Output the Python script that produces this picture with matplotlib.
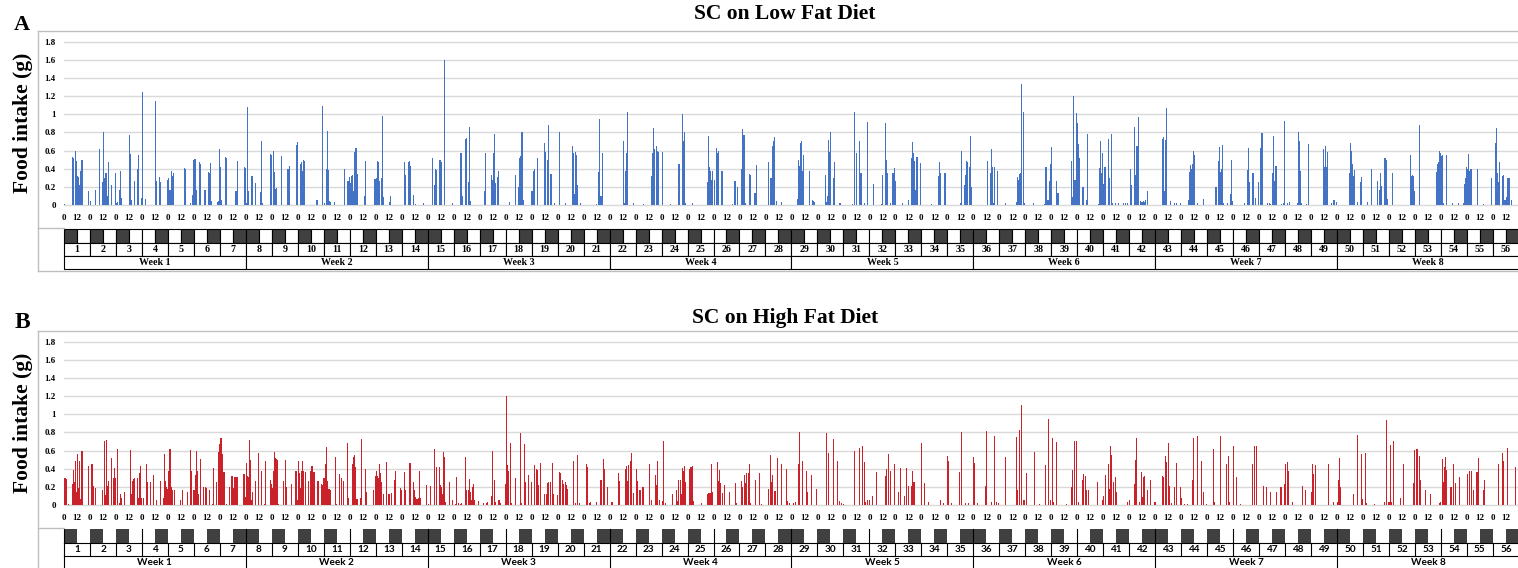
import matplotlib
matplotlib.use("Agg")
import matplotlib.pyplot as plt
import numpy as np
from matplotlib.lines import Line2D
from matplotlib.patches import Rectangle

# Hourly food intake (g); one {hour: grams} dict per day, days 1-56
low_fat = [
    {0: .01, 6: .42, 7: .53, 8: .52, 10: .60, 11: .49, 12: .32, 13: .31, 14: .22, 15: .38, 16: .50, 17: .50, 18: .02, 22: .15},
    {0: .04, 5: .16, 8: .62, 11: .25, 12: .81, 13: .30, 14: .35, 15: .35, 16: .10, 17: .47, 18: .48, 19: .22, 23: .35},
    {0: .02, 1: .03, 3: .17, 4: .37, 5: .08, 6: .07, 12: .77, 13: .56, 14: .06, 17: .27, 18: .61, 19: .40, 20: .55, 23: .08},
    {0: 1.25, 3: .07, 12: 1.15, 13: .27, 16: .31, 17: .25, 18: .73, 23: .28},
    {0: .30, 1: .16, 2: .16, 3: .37, 4: .32, 5: .35, 15: .41, 16: .40, 19: .57, 20: .02, 22: .11, 23: .50},
    {0: .51, 1: .51, 2: .17, 5: .47, 6: .45, 9: .16, 10: .16, 13: .36, 14: .35, 15: .46, 16: .04, 21: .03, 22: .04, 23: .62},
    {0: .42, 1: .05, 5: .53, 6: .52, 14: .15, 15: .15, 16: .49, 22: .42, 23: .41},
    {0: .02, 1: 1.08, 2: .15, 5: .32, 6: .32, 8: .24, 13: .14, 14: .70, 15: .02, 22: .56, 23: .55},
    {1: .59, 2: .36, 3: .18, 4: .19, 8: .54, 14: .40, 15: .40, 16: .43, 22: .66, 23: .69},
    {2: .45, 3: .47, 4: .38, 5: .50, 6: .49, 17: .05, 18: .05, 22: 1.09},
    {0: .02, 2: .40, 3: .82, 4: .39, 5: .04, 6: .03, 9: .03, 19: .40, 20: .32, 21: .26, 22: .27, 23: .31},
    {0: .24, 1: .32, 2: .33, 3: .15, 4: .58, 5: .63, 6: .63, 7: .34, 8: .21, 13: .10, 14: .48, 20: .28, 22: .29, 23: .29},
    {0: .30, 1: .48, 2: .47, 3: .27, 5: .30, 6: .98, 7: .09, 8: .02, 12: .03, 13: .10},
    {2: .47, 3: .33, 6: .47, 7: .48, 8: .43, 9: .11, 10: .11, 12: .01, 20: .02},
    {4: .52, 6: .22, 7: .40, 8: .39, 9: .16, 10: .50, 11: .50, 12: .47, 15: 1.60, 22: .02},
    {6: .57, 7: .57, 8: .10, 9: .12, 10: .73, 11: .74, 13: .25, 14: .86, 15: .04, 21: .07},
    {4: .15, 5: .57, 10: .33, 11: .28, 12: .57, 13: .78, 14: .24, 16: .31, 17: .37, 22: .07},
    {3: .03, 9: .33, 10: .20, 11: .20, 12: .52, 13: .54, 14: .80, 15: .80, 16: .06, 23: .15},
    {0: .15, 1: .38, 2: .40, 5: .52, 10: .28, 11: .68, 12: .58, 14: .50, 15: .88, 17: .34, 18: .34, 21: .02},
    {1: .80, 7: .02, 13: .65, 14: .57, 15: .12, 16: .58, 17: .55, 18: .22, 21: .02},
    {11: .01, 13: .36, 14: .95, 15: .10, 16: .10, 17: .57},
    {11: .72, 12: .70, 13: .02, 14: .38, 15: .57, 16: 1.02, 22: .02},
    {7: .01, 14: .32, 15: .57, 16: .85, 17: .62, 19: .65, 20: .60, 21: .58, 23: .29},
    {0: .58, 8: .01, 15: .45, 16: .45, 19: 1.00, 20: .70, 21: .80, 22: .02, 23: .56},
    {4: .02, 11: .01, 18: .25, 19: .76, 20: .42, 21: .38, 22: .28, 23: .38},
    {0: .28, 2: .63, 3: .57, 4: .60, 7: .37, 8: .37, 17: .01, 19: .26, 20: .26, 22: .20},
    {1: .40, 2: .84, 3: .77, 4: .77, 5: .02, 9: .34, 10: .33, 13: .13, 14: .13, 15: .44},
    {2: .47, 4: .30, 5: .30, 6: .65, 7: .70, 8: .75, 10: .04, 12: .25, 14: .03},
    {5: .07, 6: .50, 7: .43, 8: .68, 9: .70, 10: .37, 11: .55, 12: .55, 16: .38, 19: .05, 20: .04, 21: .03},
    {7: .33, 8: .03, 9: .10, 10: .72, 11: .58, 12: .81, 13: .12, 14: .30, 15: .47, 20: .02, 21: .02},
    {8: .01, 10: 1.02, 12: .57, 13: .72, 14: .70, 15: .35, 16: .35, 19: .02, 22: .92},
    {3: .23, 11: .01, 12: .33, 13: .33, 14: .90, 15: .50, 16: .35, 19: .02, 21: .35, 22: .35, 23: .41},
    {0: .27, 1: .27, 6: .02, 12: .05, 13: .44, 14: .52, 15: .69, 16: .57, 17: .48, 18: .16, 19: .53, 20: .53, 23: .46},
    {9: .01, 14: 1.14, 15: .32, 16: .47, 17: .35, 21: .35, 22: .35},
    {12: .02, 13: .60, 14: .22, 15: .22, 16: .33, 17: .48, 18: .47, 20: .42, 21: .76, 22: .20},
    {13: .48, 14: .63, 15: .35, 16: .62, 17: .42, 18: .02, 19: .42, 22: .37},
    {5: .02, 15: .03, 16: .31, 17: .28, 18: .34, 19: .35, 20: 1.33, 22: 1.03, 23: .02},
    {2: .36, 7: .02, 17: .01, 18: .42, 19: .42, 20: .05, 21: .06, 22: .26, 23: .45},
    {0: .64, 4: .27, 5: .13, 6: .13, 18: .48, 19: .09, 20: 1.20, 21: .28, 22: .28, 23: 1.01},
    {0: .90, 1: .67, 2: .52, 3: .68, 4: .20, 5: .20, 8: .05, 9: .78, 19: .01, 20: .41, 21: .70, 22: .35, 23: .57},
    {0: .23, 1: .42, 2: .42, 3: .60, 4: .73, 5: .30, 7: .78, 8: .02, 11: .02, 14: .02, 18: .02, 20: .02, 22: .02},
    {1: .40, 2: .22, 4: .86, 5: .33, 6: .65, 7: .65, 8: .97, 10: .04, 11: .03, 12: .03, 13: .04, 14: .03, 15: .05, 16: .15},
    {6: .73, 7: .75, 8: .15, 9: .72, 10: 1.07, 14: .04, 17: .02, 19: .02, 23: .02},
    {6: .06, 7: .36, 8: .44, 9: .40, 10: .45, 11: .60, 12: .55, 15: .02, 16: .02, 20: .07},
    {7: .20, 8: .20, 10: .48, 11: .64, 12: .36, 13: .40, 14: .66, 15: .02, 18: .02, 21: .12, 22: .50, 23: .04},
    {10: .02, 13: .39, 14: .63, 15: .25, 16: .13, 17: .35, 18: .35, 20: .08, 23: .25},
    {1: .63, 2: .79, 3: .79, 7: .02, 9: .02, 10: .01, 12: .35, 13: .76, 14: .27, 15: .43, 16: .43, 17: .02, 20: .01, 22: .02, 23: .93},
    {2: .02, 4: .03, 5: .02, 11: .02, 12: .81, 13: .70, 14: .38, 15: .02, 17: .01, 19: .01, 21: .67},
    {11: .62, 12: .42, 13: .65, 14: .42, 15: .58, 18: .02, 20: .06, 21: .06, 23: .03},
    {11: .35, 12: .68, 13: .60, 14: .45, 15: .32, 16: .39, 17: .03, 18: .03, 21: .25, 22: .31},
    {4: .03, 7: .40, 13: .26, 15: .17, 16: .35, 17: .21, 18: .49, 19: .52, 20: .52, 21: .50, 22: .07},
    {3: .35, 18: .58, 19: .55, 20: .32, 21: .33, 22: .32, 23: .15},
    {4: .88, 18: .02, 19: .36, 20: .45, 21: .47, 22: .60, 23: .57},
    {0: .54, 1: .55, 2: .02, 5: .55, 10: .02, 16: .02, 18: .02, 20: .02, 21: .23, 22: .30, 23: .42},
    {0: .40, 1: .56, 2: .38, 3: .40, 4: .40, 9: .40, 15: .01, 22: .30},
    {2: .68, 3: .85, 4: .35, 5: .25, 6: .47, 7: .20, 8: .32, 9: .33, 10: .05, 11: .05, 12: .09, 13: .30, 14: .30, 15: .30, 17: .05},
]

high_fat = [
    {0: .30, 1: .30, 2: .29, 4: .01, 6: .01, 7: .23, 8: .39, 9: .25, 10: .48, 11: .14, 12: .56, 13: .19, 14: .48, 15: .07, 16: .60, 17: .60, 18: .23, 22: .43},
    {1: .45, 2: .45, 3: .21, 5: .19, 6: .38, 11: .17, 13: .70, 14: .11, 15: .72, 16: .21, 17: .27, 18: .27, 19: .52, 21: .30, 22: .41, 23: .30},
    {1: .62, 3: .02, 4: .12, 5: .08, 6: .17, 7: .14, 13: .61, 14: .12, 15: .27, 16: .29, 17: .30, 18: .54, 19: .30, 20: .08, 21: .35, 22: .43, 23: .08},
    {1: .08, 4: .45, 5: .25, 6: .45, 7: .25, 10: .33, 13: .05, 17: .26, 18: .26, 19: .08, 20: .56, 21: .26, 22: .20, 23: .18},
    {0: .37, 1: .62, 2: .62, 3: .20, 4: .16, 6: .17, 11: .05, 13: .17, 18: .14, 19: .37, 20: .61, 21: .37, 23: .16},
    {0: .16, 1: .33, 2: .60, 3: .37, 4: .12, 6: .51, 8: .20, 10: .20, 11: .19, 14: .16, 17: .01, 18: .41, 20: .25, 22: .58, 23: .67},
    {0: .74, 1: .74, 2: .56, 3: .36, 4: .36, 6: .01, 8: .20, 10: .32, 11: .32, 12: .19, 13: .31, 14: .31, 15: .31, 16: .31, 21: .34, 22: .34, 23: .09},
    {0: .46, 1: .32, 2: .31, 3: .72, 4: .50, 5: .06, 6: .14, 8: .26, 11: .57, 14: .38, 17: .01, 18: .48, 22: .28, 23: .23},
    {0: .19, 1: .38, 2: .58, 3: .52, 4: .51, 5: .50, 6: .01, 10: .27, 12: .50, 13: .20, 18: .23, 21: .37, 22: .37, 23: .06},
    {0: .48, 1: .35, 2: .19, 3: .38, 4: .49, 5: .37, 7: .36, 9: .27, 11: .38, 12: .43, 13: .43, 14: .36, 15: .36, 18: .26, 19: .26, 21: .23, 22: .22, 23: .30},
    {0: .30, 1: .45, 2: .64, 3: .26, 4: .18, 5: .18, 6: .17, 8: .26, 10: .53, 11: .01, 14: .34, 16: .30, 18: .27, 20: .20, 21: .68, 22: .08},
    {2: .45, 3: .53, 4: .55, 5: .42, 6: .07, 7: .07, 9: .08, 10: .73, 14: .40, 15: .14, 21: .17, 23: .32},
    {0: .38, 1: .32, 2: .30, 3: .45, 4: .35, 5: .25, 7: .12, 9: .47, 11: .12, 12: .12, 14: .13, 17: .28, 18: .37, 22: .19, 23: .16},
    {2: .36, 3: .16, 7: .46, 8: .46, 9: .64, 10: .25, 11: .16, 12: .09, 13: .07, 14: .07, 15: .08, 16: .38, 17: .08, 22: .22},
    {0: .01, 2: .21, 6: .62, 8: .42, 9: .33, 10: .42, 11: .22, 12: .20, 13: .12, 14: .58, 15: .53, 16: .03, 20: .25, 21: .20, 22: .05},
    {1: .01, 2: .31, 4: .02, 6: .01, 7: .02, 10: .53, 11: .16, 13: .16, 14: .29, 15: .14, 16: .06, 17: .20, 18: .23, 19: .05, 21: .04, 22: .04},
    {3: .02, 6: .02, 7: .03, 9: .10, 10: .10, 11: .60, 13: .28, 14: .03, 17: .06, 18: .06, 19: .02, 23: .23},
    {0: 1.20, 1: .44, 2: .37, 4: .68, 5: .02, 9: .30, 13: .79, 14: .02, 17: .67, 18: .25, 21: .33, 22: .33, 23: .25},
    {2: .44, 4: .40, 5: .39, 6: .22, 8: .46, 10: .12, 11: .12, 13: .12, 14: .24, 15: .25, 17: .25, 19: .46, 20: .12, 23: .11},
    {1: .36, 2: .35, 4: .28, 5: .23, 7: .25, 8: .22, 9: .18, 10: .17, 14: .49, 16: .02, 18: .55, 20: .02, 22: .02},
    {2: .45, 3: .42, 5: .02, 6: .03, 10: .40, 11: .03, 15: .28, 16: .28, 18: .51, 19: .40, 22: .20, 23: .39},
    {1: .03, 2: .03, 8: .35, 9: .27, 11: .17, 14: .40, 15: .43, 16: .26, 17: .44, 19: .49, 20: .57, 22: .13},
    {0: .40, 1: .27, 3: .17, 4: .17, 6: .20, 7: .20, 12: .45, 14: .06, 18: .33, 19: .22, 20: .49, 22: .05, 23: .04},
    {0: .04, 1: .71, 3: .02, 10: .12, 13: .17, 14: .04, 15: .28, 17: .28, 18: .12, 19: .41, 20: .37, 21: .43, 22: .25, 23: .36},
    {1: .40, 2: .42, 3: .42, 4: .43, 5: .04, 11: .35, 12: .02, 18: .12, 19: .13, 20: .13, 21: .13, 22: .45, 23: .14},
    {3: .47, 4: .27, 5: .39, 6: .24, 8: .13, 10: .22, 14: .14, 20: .24, 21: .02},
    {0: .25, 1: .27, 2: .20, 4: .33, 5: .24, 6: .35, 8: .35, 9: .45, 10: .02, 14: .28, 18: .35, 20: .01},
    {0: .48, 2: .18, 4: .55, 5: .25, 6: .33, 8: .15, 9: .15, 11: .52, 12: .03, 14: .45, 19: .40, 20: .04, 22: .02},
    {1: .02, 3: .03, 6: .45, 7: .80, 10: .48, 12: .38, 13: .37, 14: .14, 18: .33, 23: .18},
    {0: .01, 8: .79, 10: .57, 13: .43, 14: .73, 18: .48, 20: .04, 22: .02},
    {0: .01, 10: .60, 13: .84, 14: .63, 17: .65, 19: .47, 20: .03, 22: .05},
    {0: .05, 2: .10, 6: .36, 14: .32, 15: .40, 17: .56, 19: .38, 23: .45},
    {1: .16, 2: .14, 4: .41, 8: .10, 10: .41, 12: .21, 14: .21, 15: .38, 16: .25, 17: .25},
    {0: .68, 1: .41, 2: .24, 6: .03, 14: .56, 17: .05, 20: .02},
    {0: .54, 1: .48, 3: .02, 11: .36, 13: .80, 16: .02, 19: .02},
    {0: .53, 1: .46, 3: .02, 11: .21, 12: .82, 14: .71, 16: .03, 19: .76, 21: .03, 23: .02},
    {5: .53, 15: .75, 16: .16, 18: .83, 20: 1.10, 22: .05, 23: .05},
    {1: .35, 8: .58, 13: .01, 18: .44, 21: .95, 23: .05},
    {1: .74, 2: .03, 4: .69, 14: .01, 18: .20, 19: .39, 21: .71, 23: .70},
    {1: .03, 3: .53, 4: .28, 5: .34, 7: .32, 8: .16, 10: .16, 18: .25, 23: .06},
    {0: .10, 2: .33, 3: .26, 4: .45, 5: .18, 6: .65, 7: .55, 9: .25, 11: .31, 12: .14, 22: .03},
    {0: .05, 4: .23, 5: .50, 6: .74, 9: .03, 11: .36, 12: .09, 13: .31, 14: .32, 16: .16, 19: .28, 23: .03},
    {0: .03, 6: .32, 7: .31, 9: .54, 10: .47, 12: .68, 13: .21, 15: .02, 16: .31, 17: .20, 19: .46, 23: .20},
    {0: .08, 3: .01, 5: .01, 10: .28, 11: .74, 15: .76, 16: .03, 18: .49, 20: .14, 23: .01},
    {5: .62, 6: .03, 12: .76, 16: .42, 17: .45, 19: .54, 20: .03},
    {0: .65, 3: .31, 6: .01, 16: .43, 17: .45, 19: .65, 21: .65},
    {4: .21, 5: .37, 6: .20, 10: .14, 16: .14, 17: .45, 19: .20, 20: .20, 23: .23},
    {0: .45, 2: .47, 3: .38, 6: .03, 16: .21, 17: .37, 18: .16},
    {0: .14, 1: .45, 2: .34, 4: .44, 16: .45, 17: .69, 20: .03},
    {0: .03, 1: .28, 2: .52, 3: .20, 15: .12, 17: .37, 18: .77, 22: .56, 23: .07},
    {2: .57, 3: .02, 10: .01, 19: .03, 21: .94, 23: .03},
    {0: .03, 1: .66, 2: .03, 4: .71, 10: .08, 13: .45, 22: .24, 23: .61},
    {1: .62, 2: .62, 4: .54, 5: .28, 6: .27, 9: .16, 14: .12, 22: .02, 23: .03},
    {1: .51, 2: .25, 3: .42, 4: .53, 5: .39, 6: .38, 8: .20, 9: .20, 11: .45, 13: .24, 17: .31},
    {0: .34, 2: .38, 4: .38, 6: .16, 7: .16, 8: .36, 9: .36, 10: .52, 15: .16, 16: .28},
    {5: .45, 8: .57, 9: .48, 13: .63, 20: .42},
]

# 1 = dark phase in the first 12 h of the day, 0 = light phase first
dark_first = [1, 1, 1, 0, 0, 0, 0,  1, 1, 1, 1, 0, 0, 0,
              1, 1, 1, 0, 0, 0, 0,  1, 1, 1, 1, 0, 0, 0,
              1, 1, 1, 0, 0, 0, 0,  1, 1, 1, 1, 0, 0, 0,
              1, 1, 1, 0, 0, 0, 0,  1, 1, 1, 1, 0, 0, 0]
day_labels = [str(d) for d in range(1, 57)]
week_labels = [f"Week {w}" for w in range(1, 9)]
y_ticks = [0, 0.2, 0.4, 0.6, 0.8, 1.0, 1.2, 1.4, 1.6, 1.8]
y_tick_labels = ["0", "0.2", "0.4", "0.6", "0.8", "1", "1.2", "1.4", "1.6", "1.8"]
hour_labels = ["0", "12"]

W, H = 1518, 568
SERIF = "Liberation Serif"
SANS = "Lato"
X0, X1 = 64, 1518          # plot left / right edge in pixels
HOUR_PX = 25.98 / 24       # width of one hour in pixels
N_DAYS = 56

fig = plt.figure(figsize=(W / 100, H / 100), dpi=100)


def fig_rect(x0, y0, x1, y1):
    return [x0 / W, 1 - y1 / H, (x1 - x0) / W, (y1 - y0) / H]


def fig_line(xs, ys, color="#BFBFBF", lw=1.0):
    fig.add_artist(Line2D([x / W for x in xs], [1 - y / H for y in ys],
                          transform=fig.transFigure, color=color, lw=lw))


def to_hourly(days):
    out = np.zeros(len(days) * 24)
    for d, day in enumerate(days):
        for h, v in day.items():
            out[d * 24 + h] = v
    return out


def draw_panel(off, days, color, title, title_y, letter, letter_y, letter_size, boxed):
    # chart frame
    fig_line([38, W + 2], [31 + off, 31 + off])
    fig_line([38, 38], [31 + off, 271 + off])
    fig_line([38, X0], [228 + off, 228 + off])
    if boxed:
        fig_line([38, W + 2], [271 + off, 271 + off])

    fig.text(22 / W, 1 - letter_y / H, letter, family=SERIF,
             weight="bold", fontsize=letter_size, ha="center", va="center")
    fig.text(785 / W, 1 - title_y / H, title, family=SERIF, weight="bold",
             fontsize=15.5, ha="center", va="center")
    fig.text(23 / W, 1 - (123 + off) / H, "Food intake (g)", family=SERIF,
             weight="bold", fontsize=15.5, rotation=90, ha="center", va="center")

    hourly = to_hourly(days)
    ax = fig.add_axes(fig_rect(X0, 41.7 + off, X1, 205 + off))
    ax.bar(np.arange(hourly.size) + 0.5, hourly, width=0.85, color=color, linewidth=0)
    xmax = (X1 - X0) / HOUR_PX
    ax.set_xlim(0, xmax)
    ax.set_ylim(0, 1.8)
    for y in y_ticks:
        ax.axhline(y, color="#D9D9D9", lw=1.0, zorder=0, clip_on=False)
    for s in ax.spines.values():
        s.set_visible(False)
    ax.set_yticks(y_ticks)
    ax.set_yticklabels(y_tick_labels)
    ticks = np.arange(0, N_DAYS * 24, 12)
    ax.set_xticks(ticks)
    ax.set_xticklabels([hour_labels[i % 2] for i in range(len(ticks))])
    ax.tick_params(axis="both", length=0, labelsize=6.5)
    ax.tick_params(axis="x", pad=6.5)
    ax.tick_params(axis="y", pad=6)
    for lab in ax.get_xticklabels() + ax.get_yticklabels():
        lab.set_family(SERIF)
        lab.set_weight("bold")

    # light/dark, day and week table under the axis
    tb = fig.add_axes(fig_rect(X0, 229 + off, X1, 269 + off))
    tb.set_xlim(0, xmax)
    tb.set_ylim(40, 0)
    tb.axis("off")
    font = SERIF if boxed else SANS
    dark = "#404040"
    for d in range(N_DAYS):
        x = d * 24
        if boxed:
            for half in (0, 1):
                is_dark = (half == 0) == bool(dark_first[d])
                tb.add_patch(Rectangle((x + 12 * half, 0), 12, 14, facecolor=dark if is_dark else "white",
                                       edgecolor="black", lw=0.8, clip_on=False))
            tb.add_patch(Rectangle((x, 14), 24, 12.5, facecolor="white", edgecolor="black",
                                   lw=0.8, clip_on=False))
        else:
            xd = x if dark_first[d] else x + 12
            tb.add_patch(Rectangle((xd, 0), 12, 14, facecolor=dark, edgecolor="none", clip_on=False))
            if d == 0 or dark_first[d] != dark_first[d - 1]:
                tb.plot([x, x], [0, 14], color="black", lw=0.8, clip_on=False)
            tb.plot([x, x], [14, 26.5], color="black", lw=0.8, clip_on=False)
        tb.text(x + 12, 20.5, day_labels[d], family=font, weight="bold", fontsize=7.2,
                ha="center", va="center")
    for w in range(8):
        x = w * 168
        if boxed:
            tb.add_patch(Rectangle((x, 26.5), 168, 13.5, facecolor="white", edgecolor="black",
                                   lw=0.8, clip_on=False))
        else:
            tb.plot([x, x], [26.5, 40], color="black", lw=0.8, clip_on=False)
        tb.text(x + 84, 33.3, week_labels[w], family=font, weight="bold", fontsize=7.2,
                ha="center", va="center")
    if not boxed:
        for y in (14, 26.5, 40):
            tb.plot([0, N_DAYS * 24], [y, y], color="black", lw=0.8, clip_on=False)


draw_panel(0, low_fat, "#4472C4", "SC on Low Fat Diet", 14, "A", 25, 16, True)
draw_panel(300, high_fat, "#C9222B", "SC on High Fat Diet", 318, "B", 323, 17, False)

fig.savefig("out.png", dpi=100)
